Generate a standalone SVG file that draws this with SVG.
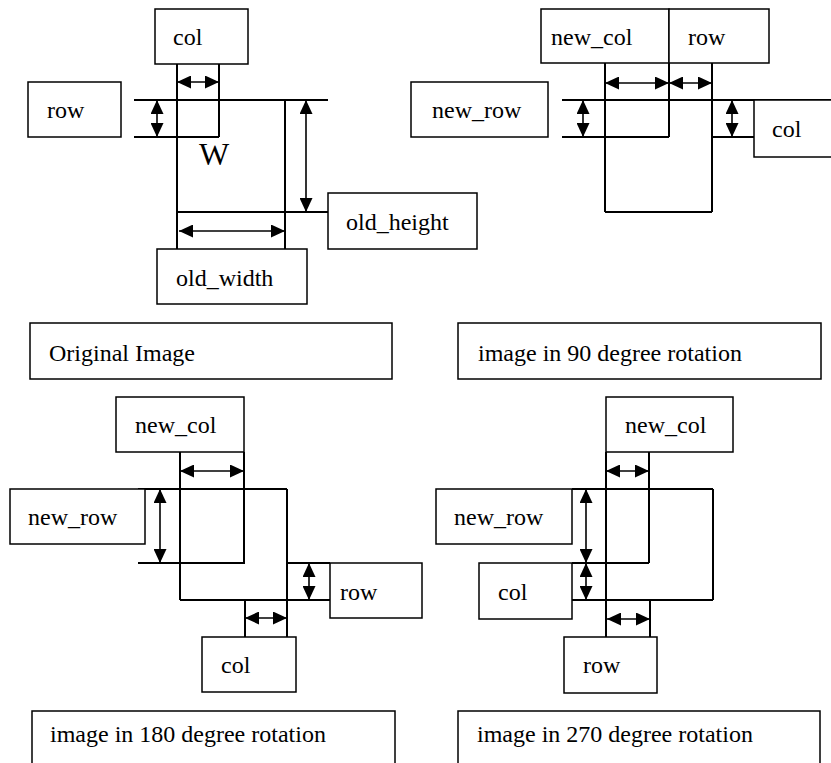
<svg xmlns="http://www.w3.org/2000/svg" width="831" height="763" viewBox="0 0 831 763">
  <style>
    .box { fill: #fff; stroke: #000; stroke-width: 1.5; }
    .lbl { font-family: "Liberation Serif", "Times New Roman", serif; font-size: 24px; fill: #000; }
    .edge { fill: none; stroke: #000; stroke-width: 2; }
    .dim { fill: none; stroke: #000; stroke-width: 1.6; marker-start: url(#head); marker-end: url(#head); }
  </style>
  <defs>
    <marker id="head" markerUnits="userSpaceOnUse" markerWidth="14" markerHeight="13" refX="14" refY="6.5" orient="auto-start-reverse">
      <path d="M0,0 L14,6.5 L0,13 z" fill="#000"/>
    </marker>
  </defs>
  <rect width="831" height="763" fill="#fff"/>

  <!-- guide lines and dimension arrows -->
  <g id="connectors">
    <!-- original image -->
    <path class="edge" d="M177,64 V249 M219,64 V137 M134,100 H328 M134,137 H219 M285,100 V249 M177,212 H328"/>
    <line class="dim" x1="177" y1="82" x2="219" y2="82"/>
    <line class="dim" x1="157" y1="100" x2="157" y2="137"/>
    <line class="dim" x1="306" y1="100" x2="306" y2="212"/>
    <line class="dim" x1="179" y1="231" x2="285" y2="231"/>

    <!-- 90 degree rotation -->
    <path class="edge" d="M605,63 V212 M669,63 V137 M712,63 V212 M562,100 H831 M562,137 H669 M712,137 H754 M605,212 H712"/>
    <line class="dim" x1="605" y1="83" x2="669" y2="83"/>
    <line class="dim" x1="669" y1="83" x2="712" y2="83"/>
    <line class="dim" x1="583" y1="100" x2="583" y2="137"/>
    <line class="dim" x1="732" y1="100" x2="732" y2="137"/>

    <!-- 180 degree rotation -->
    <path class="edge" d="M180,437 V600 M244,452 V563 M138,489 H287 M287,489 V637 M138,563 H245 M287,563 H330 M180,600 H330 M245,600 V637"/>
    <line class="dim" x1="180" y1="471" x2="244" y2="471"/>
    <line class="dim" x1="160" y1="489" x2="160" y2="563"/>
    <line class="dim" x1="309" y1="563" x2="309" y2="600"/>
    <line class="dim" x1="245" y1="618" x2="287" y2="618"/>

    <!-- 270 degree rotation -->
    <path class="edge" d="M606,452 V637 M649,452 V563 M572,489 H713 M713,489 V600 M572,600 H713 M572,563 H649 M650,600 V637"/>
    <line class="dim" x1="606" y1="471" x2="649" y2="471"/>
    <line class="dim" x1="586" y1="489" x2="586" y2="563"/>
    <line class="dim" x1="586" y1="563" x2="586" y2="600"/>
    <line class="dim" x1="607" y1="619" x2="650" y2="619"/>
  </g>

  <text class="lbl" x="199" y="165" style="font-size:32px">W</text>

  <!-- original image -->
  <g id="orig-col"><rect class="box" x="155" y="9" width="93" height="55"/><text class="lbl" x="173" y="45">col</text></g>
  <g id="orig-row"><rect class="box" x="28" y="82" width="93" height="55"/><text class="lbl" x="47" y="118">row</text></g>
  <g id="orig-old-height"><rect class="box" x="328" y="193" width="149" height="56"/><text class="lbl" x="346" y="230">old_height</text></g>
  <g id="orig-old-width"><rect class="box" x="157" y="249" width="150" height="55"/><text class="lbl" x="176" y="286">old_width</text></g>
  <g id="caption-orig"><rect class="box" x="30" y="323" width="362" height="56"/><text class="lbl" x="49" y="361">Original Image</text></g>

  <!-- 90 degree rotation -->
  <g id="r90-new-col"><rect class="box" x="541" y="9" width="128" height="54"/><text class="lbl" x="551" y="45">new_col</text></g>
  <g id="r90-row"><rect class="box" x="669" y="9" width="100" height="54"/><text class="lbl" x="688" y="45">row</text></g>
  <g id="r90-new-row"><rect class="box" x="411" y="82" width="137" height="55"/><text class="lbl" x="432" y="118">new_row</text></g>
  <g id="r90-col"><rect class="box" x="754" y="100" width="90" height="57"/><text class="lbl" x="772" y="137">col</text></g>
  <g id="caption-90"><rect class="box" x="458" y="323" width="363" height="56"/><text class="lbl" x="478" y="361">image in 90 degree rotation</text></g>

  <!-- 180 degree rotation -->
  <g id="r180-new-col"><rect class="box" x="116" y="397" width="128" height="55"/><text class="lbl" x="135" y="433">new_col</text></g>
  <g id="r180-new-row"><rect class="box" x="10" y="489" width="135" height="55"/><text class="lbl" x="28" y="525">new_row</text></g>
  <g id="r180-row"><rect class="box" x="330" y="563" width="92" height="55"/><text class="lbl" x="340" y="600">row</text></g>
  <g id="r180-col"><rect class="box" x="202" y="637" width="94" height="55"/><text class="lbl" x="221" y="673">col</text></g>
  <g id="caption-180"><rect class="box" x="32" y="711" width="363" height="60"/><text class="lbl" x="50" y="742">image in 180 degree rotation</text></g>

  <!-- 270 degree rotation -->
  <g id="r270-new-col"><rect class="box" x="606" y="397" width="127" height="55"/><text class="lbl" x="625" y="433">new_col</text></g>
  <g id="r270-new-row"><rect class="box" x="436" y="489" width="136" height="55"/><text class="lbl" x="454" y="525">new_row</text></g>
  <g id="r270-col"><rect class="box" x="479" y="563" width="93" height="56"/><text class="lbl" x="498" y="600">col</text></g>
  <g id="r270-row"><rect class="box" x="564" y="637" width="93" height="56"/><text class="lbl" x="583" y="673">row</text></g>
  <g id="caption-270"><rect class="box" x="458" y="711" width="362" height="60"/><text class="lbl" x="477" y="742">image in 270 degree rotation</text></g>
</svg>
